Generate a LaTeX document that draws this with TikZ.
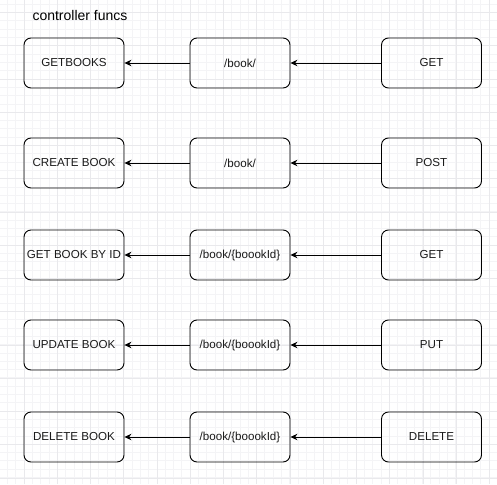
\documentclass[tikz,border=0pt]{standalone}
\usepackage{fontspec}
\setmainfont{Liberation Sans}
\usetikzlibrary{arrows.meta}
\definecolor{gridminor}{RGB}{244,244,246}
\definecolor{gridmajor}{RGB}{233,233,236}
\definecolor{boxtext}{RGB}{26,26,26}

\begin{document}
\begin{tikzpicture}[x=1pt,y=1pt,
		box/.style={draw, rounded corners=7pt, minimum width=100pt, minimum height=50pt, inner sep=0pt, line width=0.9pt, text=boxtext, font=\fontsize{11.6}{13}\selectfont},
		link/.style={-{Stealth[length=7pt,width=6.5pt]}, line width=0.8pt}]
		\useasboundingbox (0,0) rectangle (497,-484);
		\fill[white] (0,0) rectangle (497,-484);
		% grid of the canvas
		\begin{scope}[shift={(7.3,-4.1)}]
			\draw[gridminor, line width=0.4pt, step=8.3pt] (-7.3,4.1) grid (490,-480);
		\end{scope}
		\begin{scope}[shift={(23.9,-12.4)}]
			\draw[gridmajor, line width=0.5pt, step=33.25pt] (-23.9,12.4) grid (474,-472);
		\end{scope}
		\node[anchor=west, font=\fontsize{14}{16}\selectfont] (title) at (29,-15) {controller funcs};
		% controller functions
		\node[box] (getbooks) at (74,-63) {GETBOOKS};
		\node[box] (createbook) at (74,-163) {CREATE BOOK};
		\node[box] (getbyid) at (74,-255) {GET BOOK BY ID};
		\node[box] (updatebook) at (74,-345) {UPDATE BOOK};
		\node[box] (deletebook) at (74,-437) {DELETE BOOK};
		% routes
		\node[box] (routeA) at (240,-63) {/book/};
		\node[box] (routeB) at (240,-163) {/book/};
		\node[box] (routeC) at (240,-255) {/book/\{boookId\}};
		\node[box] (routeD) at (240,-345) {/book/\{boookId\}};
		\node[box] (routeE) at (240,-437) {/book/\{boookId\}};
		% methods
		\node[box] (methA) at (431.5,-63) {GET};
		\node[box] (methB) at (431.5,-163) {POST};
		\node[box] (methC) at (431.5,-255) {GET};
		\node[box] (methD) at (431.5,-345) {PUT};
		\node[box] (methE) at (431.5,-437) {DELETE};
		\draw[link] (methA) -- (routeA);
		\draw[link] (routeA) -- (getbooks);
		\draw[link] (methB) -- (routeB);
		\draw[link] (routeB) -- (createbook);
		\draw[link] (methC) -- (routeC);
		\draw[link] (routeC) -- (getbyid);
		\draw[link] (methD) -- (routeD);
		\draw[link] (routeD) -- (updatebook);
		\draw[link] (methE) -- (routeE);
		\draw[link] (routeE) -- (deletebook);
	\end{tikzpicture}
\end{document}
